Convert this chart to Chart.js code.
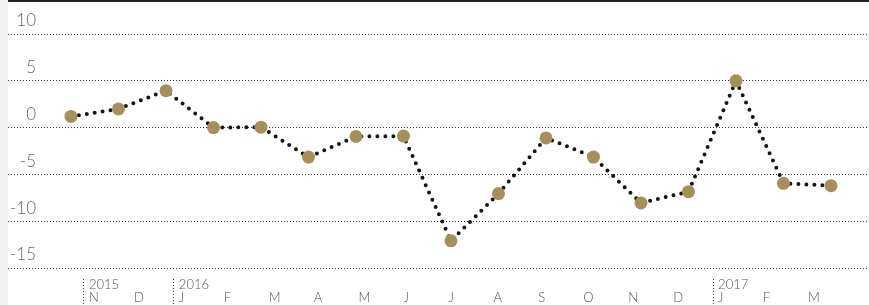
<!DOCTYPE html>
<html>
<head>
<meta charset="utf-8">
<script src="https://cdn.jsdelivr.net/npm/chart.js@4/dist/chart.umd.min.js"></script>
<style>
  html, body { margin: 0; padding: 0; background: #f1f1f1; }
  .wrap {
    position: absolute; left: 8px; top: 0;
    width: 861px; height: 303px;
    background: #fff;
    border-top: 2px solid #231f20;
  }
</style>
</head>
<body>
<div class="wrap"><canvas id="chart"></canvas></div>
<script>
// ============================================
// DATA
// ============================================
const months = ['N', 'D', 'J', 'F', 'M', 'A', 'M', 'J', 'J', 'A', 'S', 'O', 'N', 'D', 'J', 'F', 'M']
const years  = ['2015', '', '2016', '', '', '', '', '', '', '', '', '', '', '', '2017', '', '']
const values = [1.2, 2.0, 3.95, 0.0, 0.05, -3.15, -0.95, -0.9, -12.1, -7.05, -1.1, -3.15, -8.05, -6.85, 5.0, -5.95, -6.2]
const yTicks = [-15, -10, -5, 0, 5, 10]

const gold = '#a68f5c'
const font = 'Lato, "Open Sans", sans-serif'

// ============================================
// CHART
// ============================================
function init() {
    const ctx = document.getElementById('chart').getContext('2d')

    new Chart(ctx, {
        type: 'line',
        data: {
            datasets: [{
                data: values.map((v, i) => ({ x: i, y: v })),
                borderColor: '#151515',
                borderWidth: 4,
                borderDash: [0, 8],
                borderCapStyle: 'round',
                tension: 0,
                pointRadius: 6.5,
                pointHoverRadius: 6.5,
                pointBackgroundColor: gold,
                pointBorderWidth: 0
            }]
        },
        options: {
            responsive: true,
            maintainAspectRatio: false,
            animation: false,
            layout: { padding: 0, autoPadding: false },
            plugins: {
                legend: { display: false },
                tooltip: { enabled: false }
            },
            scales: {
                x: {
                    type: 'linear',
                    display: false,
                    min: -1.326,
                    max: 16.8
                },
                // label axis (month letters + year markers)
                xl: {
                    axis: 'x',
                    type: 'linear',
                    position: 'bottom',
                    min: -1.691,
                    max: 17.469,
                    afterBuildTicks: (s) => { s.ticks = months.map((m, i) => ({ value: i })) },
                    afterFit: (s) => { s.height = 26; s.paddingLeft = 0; s.paddingRight = 0 },
                    border: { display: false },
                    grid: {
                        drawOnChartArea: false,
                        drawTicks: true,
                        tickLength: 26,
                        tickWidth: 1,
                        tickColor: (c) => years[c.index] ? '#333' : 'rgba(0,0,0,0)',
                        tickBorderDash: [1, 2]
                    },
                    ticks: {
                        align: 'start',
                        labelOffset: 5,
                        padding: -27,
                        maxRotation: 0,
                        autoSkip: false,
                        color: '#555',
                        font: { family: font, size: 13, weight: 300, lineHeight: 1.0 },
                        callback: (v, i) => [years[i], months[i]]
                    }
                },
                y: {
                    position: 'left',
                    min: -16.175,
                    max: 13.42,
                    afterBuildTicks: (s) => { s.ticks = yTicks.map(v => ({ value: v })) },
                    afterFit: (s) => { s.width = 0; s.paddingTop = 0; s.paddingBottom = 0 },
                    border: { display: false, dash: [1, 2] },
                    grid: {
                        color: '#333',
                        lineWidth: 1,
                        drawTicks: false
                    },
                    ticks: {
                        mirror: true,
                        crossAlign: 'far',
                        padding: 2,
                        labelOffset: -13,
                        color: '#666',
                        font: { family: font, size: 17, weight: 300 }
                    }
                }
            }
        }
    })
}

document.addEventListener('DOMContentLoaded', init)
</script>
</body>
</html>
